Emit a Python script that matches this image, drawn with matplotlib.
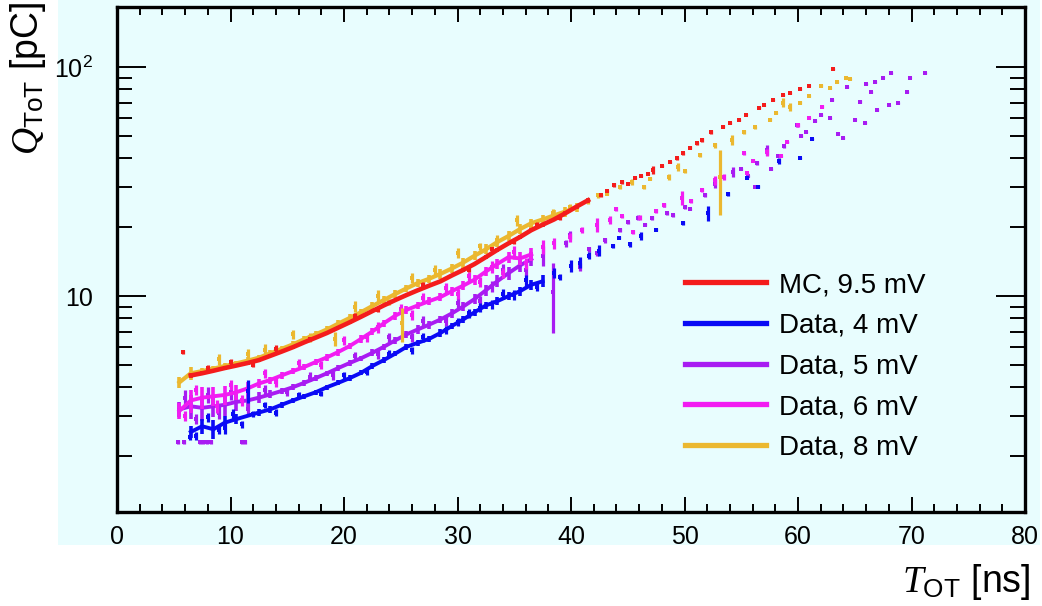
import matplotlib
matplotlib.use("Agg")
from matplotlib import pyplot as plt
from matplotlib import patches, ticker
from matplotlib import font_manager

# ---- profile bins (dense region): T [ns], Q [pC], error
mc_t = [6.5, 7.5, 8.5, 9.5, 10.5, 11.5, 12.5, 13.5, 14.5, 15.5, 16.5, 17.5, 18.5, 19.5,
        20.5, 21.5, 22.5, 23.5, 24.5, 25.5, 26.5, 27.5, 28.5, 29.5, 30.5, 31.5, 32.5,
        33.5, 34.5, 35.5, 36.5, 37.5, 38.5, 39.5, 40.5, 41.5]
mc_q = [4.50, 4.60, 4.72, 4.85, 4.97, 5.10, 5.25, 5.48, 5.72, 5.98, 6.28, 6.58, 6.90, 7.28,
        7.68, 8.12, 8.60, 9.10, 9.60, 10.1, 10.6, 11.1, 11.6, 12.3, 13.0, 13.8, 14.8,
        15.9, 17.0, 18.1, 19.4, 20.5, 21.6, 23.0, 24.6, 26.2]
mc_e = [0.10, 0.10, 0.08, 0.08, 0.08, 0.08, 0.08, 0.08, 0.08, 0.08, 0.08, 0.08, 0.08, 0.10,
        0.10, 0.10, 0.10, 0.12, 0.12, 0.12, 0.15, 0.15, 0.15, 0.20, 0.20, 0.20, 0.25,
        0.30, 0.30, 0.30, 0.35, 0.40, 0.40, 0.50, 0.50, 0.60]
# single bins off the main band
mc_tx = [5.8, 8.0, 10.0, 12.0, 14.0, 17.0, 21.0, 23.0, 27.0, 31.0, 33.0, 35.0, 37.0, 39.0,
         42.6, 43.2, 43.8, 44.5, 45.0, 45.6, 46.2, 46.8, 47.2, 48.0, 48.7, 49.3, 49.9,
         50.5, 51.1, 51.5, 52.3, 53.4, 54.0, 54.8, 55.4, 56.6, 57.0, 57.8, 58.7, 59.3,
         60.2, 61.0, 63.1]
mc_qx = [5.7, 4.85, 5.15, 5.0, 5.9, 6.5, 8.2, 8.7, 11.2, 13.0, 16.0, 17.3, 20.5, 22.0,
         27.5, 28.8, 30.5, 31.5, 31.0, 32.8, 33.5, 34.2, 35.5, 37.0, 38.5, 40.0, 42.0,
         44.5, 46.5, 48.0, 52.0, 55.0, 57.0, 59.0, 62.0, 66.5, 68.0, 72.0, 75.5, 77.0,
         80.0, 83.0, 98.0]
mc_ex = [0.1, 0.15, 0.15, 0.1, 0.2, 0.15, 0.2, 0.2, 0.3, 0.3, 0.4, 0.4, 0.5, 0.5,
         0.4, 0.3, 0.6, 0.5, 0.3, 0.4, 0.3, 0.4, 1.5, 0.4, 0.5, 0.6, 0.5,
         0.5, 0.6, 1.0, 1.0, 0.6, 0.8, 0.6, 0.5, 0.8, 0.6, 0.6, 0.8, 0.6,
         0.8, 0.6, 1.0]

d4_t = [6.5, 7.5, 8.5, 9.5, 10.5, 12.5, 13.5, 14.5, 15.5, 16.5, 17.5, 18.5, 19.5, 20.5,
        21.5, 22.5, 23.5, 24.5, 25.5, 26.5, 27.5, 28.5, 29.5, 30.5, 31.5, 32.5, 33.5,
        34.5, 35.5, 36.5, 37.5]
d4_q = [2.55, 2.70, 2.62, 2.80, 2.90, 3.10, 3.20, 3.35, 3.50, 3.65, 3.80, 4.00, 4.18, 4.38,
        4.62, 4.95, 5.25, 5.60, 6.00, 6.25, 6.50, 6.90, 7.40, 7.90, 8.50, 9.10, 9.50,
        10.0, 10.5, 11.2, 11.6]
d4_e = [0.15, 0.20, 0.25, 0.20, 0.15, 0.12, 0.12, 0.10, 0.10, 0.10, 0.10, 0.10, 0.10, 0.12,
        0.12, 0.15, 0.15, 0.15, 0.20, 0.20, 0.20, 0.25, 0.25, 0.30, 0.30, 0.35, 0.40,
        0.40, 0.50, 0.60, 0.70]
d4_tx = [6.4, 7.0, 8.0, 9.0, 9.5, 10.2, 11.0, 11.5, 12.0, 13.0, 14.0, 16.0, 18.0, 20.0,
         22.0, 24.0, 26.0, 27.0, 29.0, 30.0, 31.0, 32.0, 33.0, 34.0, 35.0, 36.0, 37.0,
         38.5, 39.0, 40.0, 40.8, 41.6, 42.5, 43.7, 44.2, 45.2, 46.2, 47.5, 49.9, 52.1,
         53.8, 55.5, 56.5, 58.3, 60.2, 61.2]
d4_qx = [2.42, 2.45, 2.95, 2.60, 2.65, 3.05, 2.75, 3.85, 3.05, 3.35, 3.10, 3.70, 3.75, 4.50,
         4.65, 5.60, 5.80, 6.60, 7.10, 7.70, 8.40, 8.90, 9.20, 10.2, 10.1, 11.7, 11.0,
         12.6, 12.1, 13.5, 14.0, 15.0, 15.8, 16.5, 18.0, 16.8, 18.3, 19.5, 20.8, 23.0,
         28.0, 32.8, 30.0, 39.0, 40.0, 48.4]
d4_ex = [0.08, 0.1, 0.12, 0.1, 0.15, 0.15, 0.1, 0.45, 0.1, 0.1, 0.1, 0.1, 0.1, 0.15,
         0.15, 0.2, 0.2, 0.3, 0.3, 0.3, 0.4, 0.4, 0.4, 0.5, 0.5, 0.6, 0.5,
         0.6, 0.4, 0.8, 0.8, 0.5, 0.9, 0.3, 0.3, 0.5, 0.8, 0.3, 0.4, 1.8,
         0.6, 0.4, 0.4, 1.2, 0.4, 0.6]

d5_t = [5.5, 6.5, 7.5, 8.5, 9.5, 10.5, 11.5, 12.5, 13.5, 14.5, 15.5, 16.5, 17.5, 18.5,
        19.5, 20.5, 21.5, 22.5, 23.5, 24.5, 25.5, 26.5, 27.5, 28.5, 29.5, 30.5, 31.5,
        32.5, 33.5, 34.5, 35.5, 36.5]
d5_q = [3.20, 3.30, 3.25, 3.30, 3.35, 3.45, 3.50, 3.60, 3.72, 3.85, 4.00, 4.18, 4.38, 4.60,
        4.85, 5.10, 5.35, 5.65, 6.00, 6.40, 6.80, 7.15, 7.50, 7.90, 8.40, 9.00, 9.70,
        10.6, 11.6, 12.6, 13.6, 14.5]
d5_e = [0.25, 0.40, 0.40, 0.35, 0.35, 0.30, 0.30, 0.20, 0.15, 0.12, 0.12, 0.12, 0.12, 0.12,
        0.15, 0.15, 0.15, 0.20, 0.20, 0.20, 0.25, 0.30, 0.30, 0.30, 0.40, 0.40, 0.50,
        0.60, 0.70, 0.80, 0.80, 1.00]
d5_tx = [5.4, 5.9, 7.3, 7.6, 7.9, 8.3, 11.0, 11.3,
         6.0, 7.0, 8.0, 9.0, 10.0, 11.5, 13.0, 15.0, 17.0, 19.0, 21.0, 23.0, 24.0, 26.0,
         27.0, 29.0, 30.0, 32.0, 33.0, 34.0, 36.0,
         37.5, 38.4, 39.6, 39.9, 40.8, 41.6,
         42.3, 43.0, 44.3, 45.0, 45.9, 46.5, 47.1, 48.2, 48.5, 49.0, 50.0, 50.5, 51.8,
         52.7, 54.3, 55.0, 55.6, 56.2, 56.4, 57.3, 57.6, 58.2, 58.8, 59.0, 59.9, 60.3,
         60.7, 61.5, 62.0, 62.8, 63.0, 63.5, 64.0, 64.3, 65.0, 65.5, 65.9, 66.0, 66.4,
         66.8, 67.0, 67.5, 68.0, 68.2, 68.8, 69.6, 69.9, 71.2]
d5_qx = [2.30, 2.30, 2.30, 2.30, 2.30, 2.30, 2.30, 2.30,
         3.6, 2.9, 3.7, 3.1, 3.8, 3.2, 3.9, 3.8, 4.45, 4.5, 5.5, 5.6, 6.6, 6.6,
         7.8, 7.8, 9.3, 9.5, 11.0, 13.0, 13.0,
         15.0, 10.4, 17.0, 18.5, 13.4, 16.0,
         15.4, 17.5, 19.4, 21.0, 22.0, 20.5, 21.9, 25.0, 23.0, 22.5, 24.5, 24.0, 27.6,
         31.0, 34.8, 36.0, 33.5, 30.0, 38.0, 43.5, 36.0, 41.0, 45.0, 47.0, 55.8, 50.0,
         52.0, 58.0, 62.0, 60.0, 72.0, 51.0, 49.0, 82.0, 59.0, 70.5, 57.0, 84.0, 78.0,
         86.0, 65.0, 90.0, 68.0, 94.0, 69.7, 78.0, 90.0, 94.0]
d5_ex = [0.04, 0.04, 0.04, 0.04, 0.04, 0.04, 0.04, 0.04,
         0.3, 0.15, 0.3, 0.2, 0.3, 0.2, 0.2, 0.15, 0.2, 0.2, 0.2, 0.3, 0.3, 0.3,
         0.4, 0.4, 0.5, 0.5, 0.6, 0.8, 0.8,
         1.5, 3.5, 0.6, 0.8, 0.5, 0.4,
         0.4, 0.5, 0.4, 0.3, 0.6, 0.3, 0.4, 0.5, 0.3, 0.3, 0.4, 0.3, 0.6,
         1.5, 1.8, 0.4, 0.4, 0.4, 0.8, 2.0, 0.4, 0.4, 0.5, 0.5, 0.8, 0.5,
         0.5, 0.6, 0.6, 0.5, 0.7, 0.6, 0.5, 0.8, 0.4, 1.0, 0.5, 0.8, 0.6,
         0.8, 0.6, 0.8, 0.5, 0.8, 0.6, 0.6, 0.8, 0.8]

d6_t = [5.5, 6.5, 7.5, 8.5, 9.5, 10.5, 11.5, 12.5, 13.5, 14.5, 15.5, 16.5, 17.5, 18.5,
        19.5, 20.5, 21.5, 22.5, 23.5, 24.5, 25.5, 26.5, 27.5, 28.5, 29.5, 30.5, 31.5,
        32.5, 33.5, 34.5, 35.5, 36.5]
d6_q = [3.15, 3.50, 3.60, 3.65, 3.70, 3.80, 3.95, 4.15, 4.30, 4.50, 4.70, 4.90, 5.15, 5.40,
        5.70, 6.05, 6.50, 7.00, 7.60, 8.20, 8.70, 9.10, 9.50, 9.90, 10.5, 11.1, 11.8,
        12.8, 13.8, 14.8, 14.6, 15.2]
d6_e = [0.25, 0.40, 0.40, 0.35, 0.35, 0.30, 0.25, 0.20, 0.15, 0.15, 0.15, 0.15, 0.15, 0.20,
        0.20, 0.20, 0.25, 0.25, 0.30, 0.30, 0.35, 0.35, 0.40, 0.40, 0.50, 0.50, 0.60,
        0.60, 0.70, 0.80, 0.90, 1.00]
d6_tx = [6.0, 7.0, 8.8, 10.0, 11.0, 13.0, 14.0, 16.0, 18.0, 20.0, 22.0, 23.0, 25.0, 26.0,
         27.0, 29.0, 30.0, 31.0, 32.0, 33.0, 34.0, 35.0, 36.0,
         37.5, 38.5, 39.9, 41.0, 42.3, 43.4, 44.0, 44.5, 45.5, 46.1, 47.5, 48.2, 49.8, 50.6,
         51.5, 52.7, 53.5, 55.2, 55.5, 56.0, 57.3, 58.5, 59.0, 60.0, 61.0, 62.1]
d6_qx = [3.0, 3.9, 3.3, 4.1, 3.5, 4.6, 4.2, 5.1, 5.0, 6.4, 6.6, 7.3, 8.8, 8.3,
         9.8, 10.8, 10.2, 12.2, 11.5, 13.4, 12.6, 15.5, 13.9,
         16.4, 17.0, 18.1, 19.5, 20.5, 21.5, 24.0, 22.3, 19.0, 22.0, 23.5, 25.0, 26.9, 26.0,
         29.0, 32.0, 33.0, 42.0, 34.5, 39.0, 42.5, 41.0, 47.0, 55.8, 60.0, 67.0]
d6_ex = [0.15, 0.2, 0.2, 0.2, 0.2, 0.2, 0.2, 0.2, 0.2, 0.3, 0.3, 0.4, 0.4, 0.4,
         0.5, 0.6, 0.5, 0.6, 0.6, 0.8, 0.6, 1.0, 0.8,
         1.2, 1.0, 0.8, 0.6, 1.5, 0.8, 0.4, 0.4, 0.4, 0.6, 0.4, 0.4, 1.8, 0.5,
         0.5, 1.5, 1.0, 0.6, 0.5, 0.5, 1.5, 0.5, 0.5, 1.2, 0.6, 1.0]

d8_t = [5.5, 6.5, 7.5, 8.5, 9.5, 10.5, 11.5, 12.5, 13.5, 14.5, 15.5, 16.5, 17.5, 18.5,
        19.5, 20.5, 21.5, 22.5, 23.5, 24.5, 25.5, 26.5, 27.5, 28.5, 29.5, 30.5, 31.5,
        32.5, 33.5, 34.5, 35.5, 36.5, 37.5, 38.5, 39.5, 40.5]
d8_q = [4.20, 4.60, 4.70, 4.82, 4.95, 5.08, 5.22, 5.38, 5.62, 5.88, 6.15, 6.48, 6.80, 7.15,
        7.58, 8.02, 8.50, 9.05, 9.60, 10.2, 10.8, 11.4, 11.9, 12.5, 13.2, 14.0, 15.0,
        16.0, 17.2, 18.3, 19.6, 20.8, 21.6, 22.5, 23.4, 24.4]
d8_e = [0.25, 0.30, 0.15, 0.15, 0.15, 0.15, 0.20, 0.15, 0.20, 0.20, 0.20, 0.20, 0.25, 0.25,
        0.30, 0.30, 0.30, 0.35, 0.40, 0.40, 0.40, 0.50, 0.50, 0.60, 0.60, 0.70, 0.70,
        0.80, 0.80, 0.90, 1.00, 1.00, 1.00, 1.20, 1.20, 1.20]
d8_tx = [9.0, 11.5, 13.0, 15.5, 17.0, 21.0, 23.0, 24.0, 26.0, 28.0, 30.0, 32.0, 33.5, 35.2,
         36.5, 38.4, 39.9,
         19.2, 25.1, 41.5, 42.4, 43.2, 44.3, 45.4, 46.4, 47.0, 48.6, 49.4, 50.0, 51.4, 52.7,
         53.1, 54.2, 55.2, 56.2, 57.5, 58.1, 58.7, 59.3, 60.2, 61.0, 62.0, 62.8, 63.4,
         64.2, 64.6]
d8_qx = [5.3, 5.6, 5.8, 6.8, 6.6, 9.0, 10.0, 9.4, 12.0, 13.0, 15.4, 16.5, 17.6, 21.5,
         20.5, 23.0, 24.5,
         6.5, 7.6, 26.0, 27.5, 28.0, 30.0, 31.5, 30.0, 32.5, 33.0, 36.6, 35.0, 41.2, 45.6,
         33.0, 48.0, 52.0, 54.5, 59.0, 63.0, 70.0, 67.0, 70.0, 75.0, 83.0, 81.0, 86.0,
         90.0, 89.0]
d8_ex = [0.3, 0.3, 0.4, 0.3, 0.3, 0.5, 0.6, 0.3, 0.6, 0.7, 0.8, 0.6, 0.8, 1.2,
         1.0, 1.0, 0.8,
         0.45, 1.3, 0.8, 0.6, 0.5, 0.6, 1.0, 0.6, 0.5, 1.0, 1.5, 0.6, 0.8, 1.2,
         10.5, 2.5, 1.2, 1.0, 0.8, 0.8, 3.0, 2.5, 1.0, 0.8, 1.0, 0.8, 0.8,
         1.0, 0.8]

labels = ['MC, 9.5 mV', 'Data, 4 mV', 'Data, 5 mV', 'Data, 6 mV', 'Data, 8 mV']
colors = ['#f41c1c', '#0a0af5', '#a81cf2', '#f21cf2', '#ebb830']
########################################################

have = {f.name for f in font_manager.fontManager.ttflist}
sans = 'Liberation Sans' if 'Liberation Sans' in have else 'DejaVu Sans'

plt.rcParams['font.family'] = sans
plt.rcParams['mathtext.fontset'] = 'custom'
plt.rcParams['mathtext.rm'] = sans
plt.rcParams['mathtext.it'] = 'Liberation Serif:italic'

bg = '#e8fdfe'
fig = plt.figure(figsize=(10.42, 6.06), dpi=100)
fig.patches.append(patches.Rectangle((58 / 1042, 1 - 545 / 606), 982 / 1042, 545 / 606,
                                     transform=fig.transFigure, facecolor=bg,
                                     edgecolor='none', zorder=-5))
ax = fig.add_axes([117 / 1042, 1 - 512 / 606, 908 / 1042, 505 / 606])
ax.set_zorder(2)
ax.set_facecolor(bg)


def draw(t, q, e, tx, qx, ex, col, z, lw):
    ax.plot(t, q, color=col, lw=lw, solid_joinstyle='round', zorder=z)
    ax.errorbar(t, q, yerr=e, fmt='none', ecolor=col, elinewidth=2.6, capsize=0, zorder=z)
    ax.errorbar(tx, qx, yerr=ex, fmt='s', ms=3.0, mew=0, color=col,
                ecolor=col, elinewidth=2.3, capsize=0, zorder=z)


draw(d5_t, d5_q, d5_e, d5_tx, d5_qx, d5_ex, colors[2], 2, 2.8)
draw(d6_t, d6_q, d6_e, d6_tx, d6_qx, d6_ex, colors[3], 3, 2.8)
draw(d4_t, d4_q, d4_e, d4_tx, d4_qx, d4_ex, colors[1], 4, 2.8)
draw(d8_t, d8_q, d8_e, d8_tx, d8_qx, d8_ex, colors[4], 5, 3.0)
draw(mc_t, mc_q, mc_e, mc_tx, mc_qx, mc_ex, colors[0], 6, 3.3)

ax.set_yscale('log')
ax.set_xlim(0, 80)
ax.set_ylim(1.14, 183)

ax.xaxis.set_major_locator(ticker.MultipleLocator(10))
ax.xaxis.set_minor_locator(ticker.MultipleLocator(2))
ax.yaxis.set_major_locator(ticker.FixedLocator([10, 100]))
ax.yaxis.set_major_formatter(ticker.FixedFormatter(['10', r'$\mathrm{10^{2}}$']))
ax.yaxis.set_minor_locator(ticker.LogLocator(base=10, subs=range(2, 10)))
ax.yaxis.set_minor_formatter(ticker.NullFormatter())

ax.tick_params(which='both', direction='in', top=True, right=True, width=1.4, color='black')
ax.tick_params(axis='x', which='major', length=11, pad=9, labelsize=18)
ax.tick_params(axis='x', which='minor', length=6)
ax.tick_params(axis='y', which='major', length=21, pad=17, labelsize=18)
ax.tick_params(axis='y', which='minor', length=11)
for s in ax.spines.values():
    s.set_linewidth(2.4)

handles = [plt.Line2D([], [], color=c, lw=3.8) for c in colors]
leg = ax.legend(handles, labels, loc='upper left', bbox_to_anchor=(685 / 1042, 1 - 272 / 606),
                bbox_transform=fig.transFigure, frameon=False, fontsize=20,
                handlelength=2.9, handletextpad=0.5, labelspacing=0.53,
                borderpad=0, borderaxespad=0)

fig.text(28 / 1042, 1 - 2 / 606, r'$Q_{\mathrm{ToT}}$ [pC]', rotation=90,
         ha='center', va='top', fontsize=27)
fig.text(1030 / 1042, 1 - 582 / 606, r'$T_{\mathrm{OT}}$ [ns]', ha='right',
         va='center', fontsize=27)

fig.savefig('out.png', dpi=100, facecolor='white')
